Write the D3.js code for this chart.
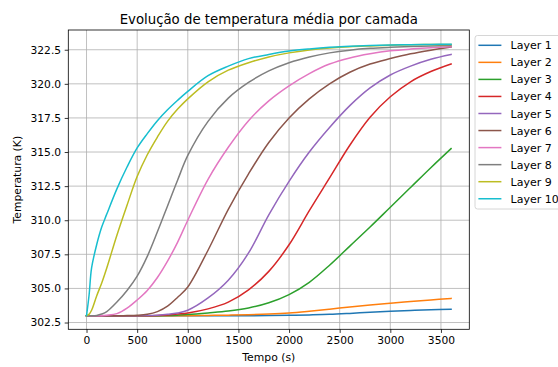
<!DOCTYPE html>
<html>
<head>
<meta charset="utf-8">
<script src="https://cdn.jsdelivr.net/npm/d3@7"></script>
<style>
  html, body { margin: 0; padding: 0; background: #fff; }
  svg { display: block; font-family: "DejaVu Sans", sans-serif; }
</style>
</head>
<body>
<svg id="chart" width="558" height="367"></svg>
<script>
// Time samples (s)
const times = [0, 25, 50, 100, 150, 200, 300, 400, 500, 600, 700, 800, 900, 1000,
  1200, 1400, 1600, 1800, 2000, 2200, 2400, 2600, 2800, 3000, 3200, 3400, 3600];

// Mean temperature per layer (K)
const layer1 = [303.0, 303.0, 303.0, 303.0, 303.0, 303.0, 303.0, 303.0, 303.0, 303.0, 303.0, 303.0, 303.0, 303.0,
  303.0, 303.0, 303.0, 303.01, 303.03, 303.06, 303.10, 303.17, 303.25, 303.32, 303.38, 303.43, 303.47];
const layer2 = [303.0, 303.0, 303.0, 303.0, 303.0, 303.0, 303.0, 303.0, 303.0, 303.0, 303.0, 303.0, 303.0, 303.0,
  303.02, 303.04, 303.07, 303.12, 303.2, 303.33, 303.48, 303.64, 303.79, 303.92, 304.04, 304.16, 304.27];
const layer3 = [303.0, 303.0, 303.0, 303.0, 303.0, 303.0, 303.0, 303.0, 303.0, 303.0, 303.0, 303.01, 303.04, 303.08,
  303.2, 303.34, 303.57, 303.95, 304.55, 305.45, 306.7, 308.1, 309.5, 310.95, 312.4, 313.85, 315.25];
const layer4 = [303.0, 303.0, 303.0, 303.0, 303.0, 303.0, 303.0, 303.0, 303.0, 303.0, 303.02, 303.06, 303.12, 303.2,
  303.5, 304.0, 304.9, 306.25, 308.2, 310.7, 313.1, 315.5, 317.55, 319.05, 320.15, 320.9, 321.45];
const layer5 = [303.0, 303.0, 303.0, 303.0, 303.0, 303.0, 303.0, 303.0, 303.0, 303.01, 303.04, 303.1, 303.2, 303.4,
  304.3, 305.6, 307.6, 310.4, 312.85, 315.0, 316.8, 318.4, 319.7, 320.65, 321.3, 321.8, 322.15];
const layer6 = [303.0, 303.0, 303.0, 303.0, 303.0, 303.0, 303.0, 303.01, 303.03, 303.1, 303.3, 303.7, 304.35, 305.1,
  307.8, 310.8, 313.4, 315.7, 317.5, 318.9, 320.0, 320.85, 321.45, 321.85, 322.2, 322.47, 322.7];
const layer7 = [303.0, 303.0, 303.0, 303.0, 303.0, 303.03, 303.15, 303.55, 304.15, 304.85, 305.8, 307.0, 308.4, 310.0,
  313.0, 315.35, 317.3, 318.75, 319.85, 320.75, 321.45, 321.9, 322.2, 322.42, 322.55, 322.64, 322.72];
const layer8 = [303.0, 303.0, 303.0, 303.02, 303.12, 303.3, 304.0, 304.85, 305.9, 307.35, 309.15, 311.05, 312.95, 314.75,
  317.25, 318.95, 320.1, 320.95, 321.55, 321.97, 322.27, 322.47, 322.6, 322.68, 322.74, 322.78, 322.81];
const layer9 = [303.0, 303.1, 303.4, 304.45, 305.4, 306.5, 308.9, 311.1, 313.2, 314.8, 316.1, 317.25, 318.15, 318.9,
  320.15, 321.0, 321.55, 321.97, 322.27, 322.48, 322.62, 322.72, 322.78, 322.83, 322.86, 322.88, 322.89];
const layer10 = [303.0, 304.5, 306.5, 308.2, 309.5, 310.45, 312.3, 313.9, 315.3, 316.35, 317.3, 318.1, 318.8, 319.45,
  320.6, 321.3, 321.85, 322.15, 322.4, 322.56, 322.68, 322.75, 322.81, 322.85, 322.87, 322.89, 322.9];

const layerNames = ["Layer 1", "Layer 2", "Layer 3", "Layer 4", "Layer 5",
  "Layer 6", "Layer 7", "Layer 8", "Layer 9", "Layer 10"];
const layerValues = [layer1, layer2, layer3, layer4, layer5, layer6, layer7, layer8, layer9, layer10];
const colors = ["#1f77b4", "#ff7f0e", "#2ca02c", "#d62728", "#9467bd",
  "#8c564b", "#e377c2", "#7f7f7f", "#bcbd22", "#17becf"];

const xTicks = [0, 500, 1000, 1500, 2000, 2500, 3000, 3500];
const yTicks = [302.5, 305.0, 307.5, 310.0, 312.5, 315.0, 317.5, 320.0, 322.5];

const titleText = "Evolução de temperatura média por camada";
const xLabel = "Tempo (s)";
const yLabel = "Temperatura (K)";

// Layout
const plot = { left: 68.3, right: 469.3, top: 30, bottom: 329.3 };
const svg = d3.select("#chart");

const x = d3.scaleLinear().domain([-180, 3780]).range([plot.left, plot.right]);
const y = d3.scaleLinear().domain([302.003, 323.947]).range([plot.bottom, plot.top]);

// Grid
const grid = svg.append("g").attr("stroke", "#b0b0b0").attr("stroke-width", 0.8);
grid.selectAll("line.gx").data(xTicks).join("line")
  .attr("x1", d => x(d)).attr("x2", d => x(d))
  .attr("y1", plot.top).attr("y2", plot.bottom);
grid.selectAll("line.gy").data(yTicks).join("line")
  .attr("x1", plot.left).attr("x2", plot.right)
  .attr("y1", d => y(d)).attr("y2", d => y(d));

// Series lines, clipped to the plot area
svg.append("clipPath").attr("id", "plotClip").append("rect")
  .attr("x", plot.left).attr("y", plot.top)
  .attr("width", plot.right - plot.left).attr("height", plot.bottom - plot.top);

const line = d3.line()
  .x((d, i) => x(times[i]))
  .y(d => y(d))
  .curve(d3.curveCatmullRom.alpha(0.5));

svg.append("g").attr("clip-path", "url(#plotClip)")
  .selectAll("path").data(layerValues).join("path")
  .attr("d", d => line(d))
  .attr("fill", "none")
  .attr("stroke", (d, i) => colors[i])
  .attr("stroke-width", 1.5)
  .attr("stroke-linejoin", "round")
  .attr("stroke-linecap", "square");

// Axes
const xAxis = d3.axisBottom(x).tickValues(xTicks).tickSize(3.6).tickPadding(3.4)
  .tickFormat(d3.format("d"));
const yAxis = d3.axisLeft(y).tickValues(yTicks).tickSize(3.6).tickPadding(3.6)
  .tickFormat(d3.format(".1f"));

const gx = svg.append("g").attr("transform", `translate(0,${plot.bottom})`).call(xAxis);
const gy = svg.append("g").attr("transform", `translate(${plot.left},0)`).call(yAxis);
[gx, gy].forEach(g => {
  g.select(".domain").remove();
  g.selectAll(".tick line").attr("stroke", "#000").attr("stroke-width", 0.8);
  g.selectAll(".tick text").attr("fill", "#000")
    .style("font-family", "DejaVu Sans").style("font-size", "10.7px");
});

// Frame
svg.append("rect")
  .attr("x", plot.left).attr("y", plot.top)
  .attr("width", plot.right - plot.left).attr("height", plot.bottom - plot.top)
  .attr("fill", "none").attr("stroke", "#000").attr("stroke-width", 0.8);

// Title and axis labels
svg.append("text").attr("x", (plot.left + plot.right) / 2).attr("y", 23.7)
  .attr("text-anchor", "middle").style("font-size", "13.3px").attr("fill", "#000")
  .text(titleText);
svg.append("text").attr("x", (plot.left + plot.right) / 2).attr("y", 360.8)
  .attr("text-anchor", "middle").style("font-size", "10.8px").attr("fill", "#000")
  .text(xLabel);
svg.append("text")
  .attr("transform", `translate(20.8,${(plot.top + plot.bottom) / 2}) rotate(-90)`)
  .attr("text-anchor", "middle").style("font-size", "10.8px").attr("fill", "#000")
  .text(yLabel);

// Legend
const legend = svg.append("g").attr("transform", "translate(475,35.5)");
legend.append("rect")
  .attr("x", 0).attr("y", 0).attr("width", 110).attr("height", 173.5)
  .attr("rx", 2.5).attr("ry", 2.5)
  .attr("fill", "#fff").attr("fill-opacity", 0.8)
  .attr("stroke", "#cccccc").attr("stroke-width", 0.8);
const rows = legend.selectAll("g.row").data(layerNames).join("g")
  .attr("transform", (d, i) => `translate(0,${9.8 + i * 17.05})`);
rows.append("line")
  .attr("x1", 3.4).attr("x2", 26.4).attr("y1", 0).attr("y2", 0)
  .attr("stroke", (d, i) => colors[i]).attr("stroke-width", 1.5);
rows.append("text")
  .attr("x", 35.6).attr("y", 4)
  .style("font-size", "11px").attr("fill", "#000")
  .text(d => d);
</script>
</body>
</html>
